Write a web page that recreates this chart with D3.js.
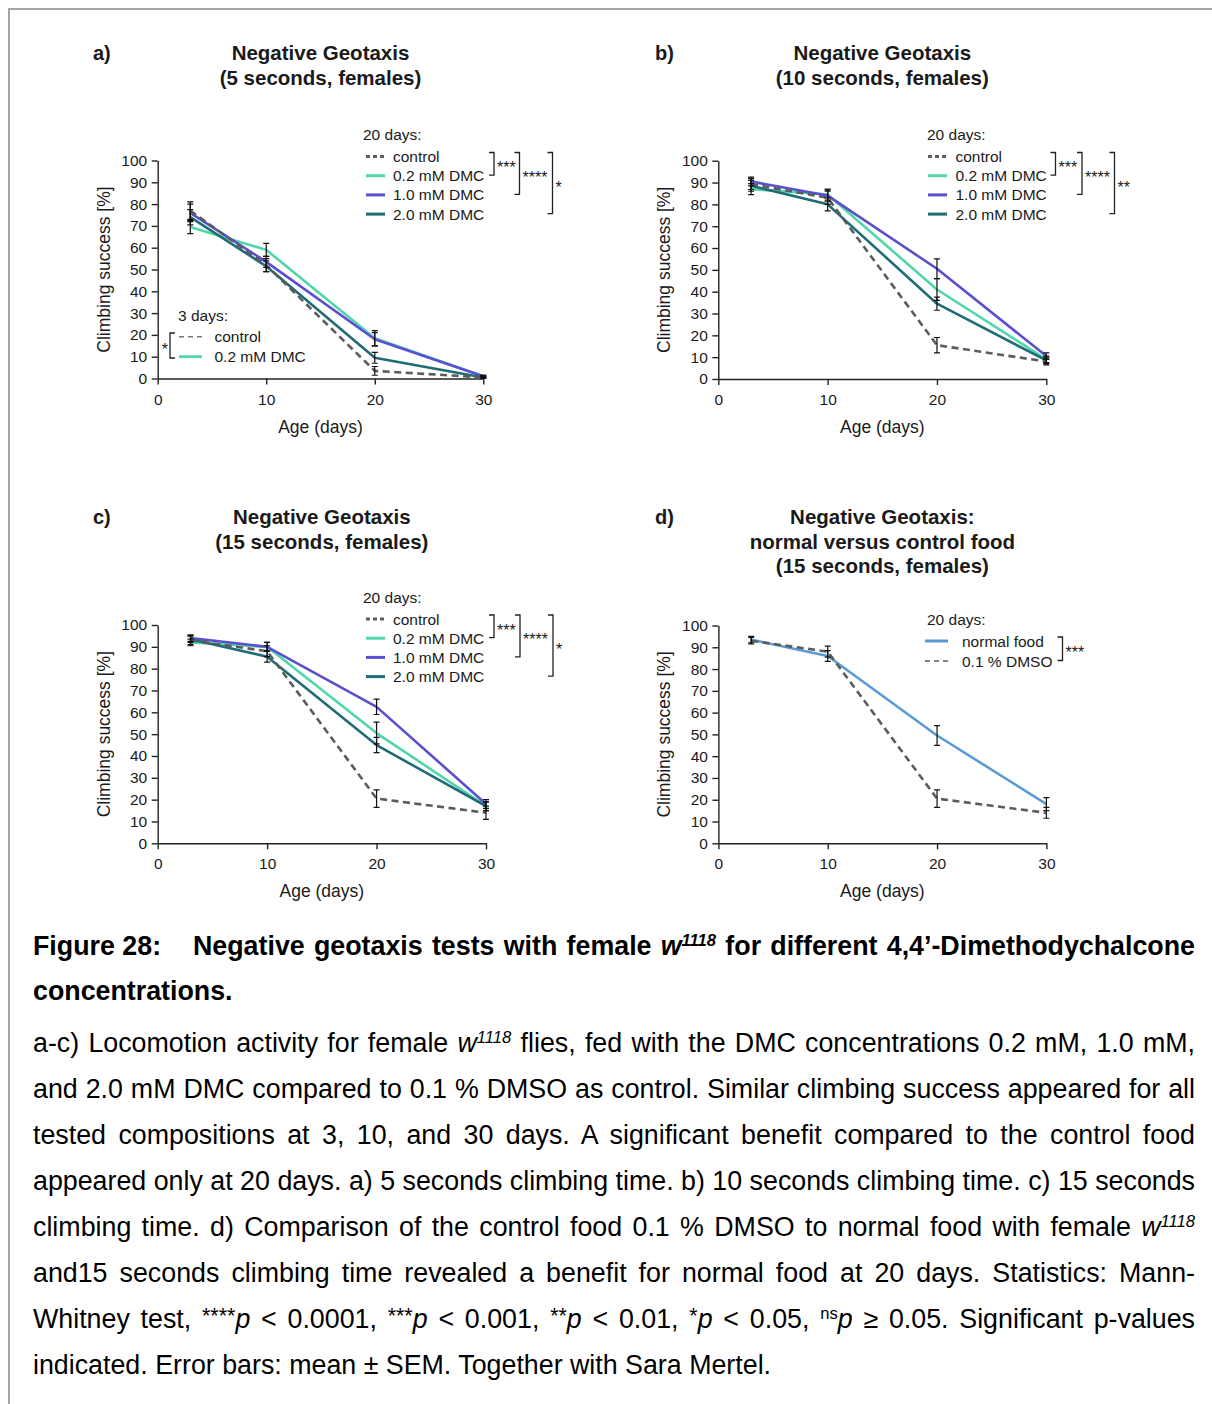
<!DOCTYPE html>
<html>
<head>
<meta charset="utf-8">
<script src="https://cdn.jsdelivr.net/npm/d3@7"></script>
<style>
  html, body { margin: 0; padding: 0; background: #fff; }
  body { width: 1212px; height: 1404px; position: relative; overflow: hidden;
         font-family: "Liberation Sans", Arial, sans-serif; }
  #fig { position: absolute; left: 0; top: 0; }
  .cap { position: absolute; left: 33px; width: 1162px; font-size: 26.8px; color: #000; }
  .cap div { white-space: nowrap; }
  .cap .j { text-align: justify; text-align-last: justify; white-space: normal; }
  #hd { top: 924px; line-height: 45px; font-weight: bold; }
  #bd { top: 1020px; line-height: 46px; }
  .fig { display: inline-block; width: 160px; text-align: left; text-align-last: left; white-space: nowrap; }
  sup { font-size: 0.62em; vertical-align: 0; position: relative; top: -0.55em; line-height: 0; }
  sup.st { font-size: 0.8em; top: -0.25em; }
</style>
</head>
<body>
<svg id="fig" width="1212" height="1404"></svg>

<div class="cap" id="hd">
  <div class="j"><span class="fig">Figure 28:</span>Negative geotaxis tests with female <i>w</i><sup><i>1118</i></sup> for different 4,4’-Dimethodychalcone</div>
  <div>concentrations.</div>
</div>
<div class="cap" id="bd">
  <div class="j">a-c) Locomotion activity for female <i>w</i><sup><i>1118</i></sup> flies, fed with the DMC concentrations 0.2 mM, 1.0 mM,</div>
  <div class="j">and 2.0 mM DMC compared to 0.1 % DMSO as control. Similar climbing success appeared for all</div>
  <div class="j">tested compositions at 3, 10, and 30 days. A significant benefit compared to the control food</div>
  <div class="j">appeared only at 20 days. a) 5 seconds climbing time. b) 10 seconds climbing time. c) 15 seconds</div>
  <div class="j">climbing time. d) Comparison of the control food 0.1 % DMSO to normal food with female <i>w</i><sup><i>1118</i></sup></div>
  <div class="j">and15 seconds climbing time revealed a benefit for normal food at 20 days. Statistics: Mann-</div>
  <div class="j">Whitney test, <sup class="st">****</sup><i>p</i> &lt; 0.0001, <sup class="st">***</sup><i>p</i> &lt; 0.001, <sup class="st">**</sup><i>p</i> &lt; 0.01, <sup class="st">*</sup><i>p</i> &lt; 0.05, <sup>ns</sup><i>p</i> ≥ 0.05. Significant p-values</div>
  <div>indicated. Error bars: mean ± SEM. Together with Sara Mertel.</div>
</div>

<script>
// ---- data ----
const days = [3, 10, 20, 30];
const xTickValues = [0, 10, 20, 30];
const yTickValues = [0, 10, 20, 30, 40, 50, 60, 70, 80, 90, 100];

const dmcSeries = ["control", "0.2 mM DMC", "1.0 mM DMC", "2.0 mM DMC"];
const foodSeries = ["normal food", "0.1 % DMSO"];
const dmcColors = ["#5c5c5c", "#4fd6a9", "#5a4fcf", "#1f6c78"];
const foodColors = ["#5b9bd5", "#5c5c5c"];

// a) 5 seconds
const meanA = [
  [77, 52, 3.5, 0.5],
  [69.5, 59, 18.5, 1],
  [76, 53.5, 18, 1],
  [74, 51.5, 9.5, 0.5]
];
const semA = [
  [4, 3, 2, 0.5],
  [3, 3, 3.5, 0.5],
  [4, 2.5, 3, 0.5],
  [3.5, 2.5, 2.5, 0.5]
];
const starsA = ["***", "****", "*"];
const stars3days = ["*"];

// b) 10 seconds
const meanB = [
  [89.3, 83, 15.5, 8],
  [87, 84.5, 41, 9],
  [90.5, 84, 50.5, 10.5],
  [88.5, 80, 34.5, 8.5]
];
const semB = [
  [2.5, 3, 3.5, 1.5],
  [2.5, 2.5, 5, 1.5],
  [2, 2.5, 4.5, 1.5],
  [2.5, 3, 3, 1.5]
];
const starsB = ["***", "****", "**"];

// c) 15 seconds
const meanC = [
  [93, 88, 20.5, 14],
  [92, 90, 50.5, 17],
  [94, 90, 62.5, 18],
  [93.5, 85.5, 45, 17]
];
const semC = [
  [2, 2.5, 4, 3],
  [1.5, 2, 5, 2],
  [1.5, 2, 3.5, 2],
  [1.5, 2.5, 3.5, 2]
];
const starsC = ["***", "****", "*"];

// d) normal vs control food
const meanD = [
  [93.5, 86, 49.5, 18],
  [93, 88, 20.5, 14]
];
const semD = [
  [1.5, 2.5, 4.5, 3],
  [1.5, 2.5, 4, 2.5]
];
const starsD = ["***"];

const FONT = "'Liberation Sans', Arial, sans-serif";
const INK = "#1a1a1a";
const svg = d3.select("#fig");

// frame
svg.append("path").attr("d", "M9,1404V9H1212")
  .attr("fill", "none").attr("stroke", "#a6a6a6").attr("stroke-width", 2);

function txt(g, x, y, s, size, opts) {
  opts = opts || {};
  return g.append("text").attr("x", x).attr("y", y).text(s)
    .attr("font-family", FONT).attr("font-size", size)
    .attr("font-weight", opts.bold ? "bold" : null)
    .attr("text-anchor", opts.anchor || "start")
    .attr("fill", INK);
}

function bracket(g, x, yTop, yBot, label, dir) {
  // dir -1 => "]"  , dir 1 => "["
  g.append("path")
    .attr("d", `M${x + dir * 5},${yTop}H${x}V${yBot}H${x + dir * 5}`)
    .attr("fill", "none").attr("stroke", "#222").attr("stroke-width", 1.3);
  const mid = (yTop + yBot) / 2;
  if (dir < 0) txt(g, x + 3, mid + 9.5, label, 16);
  else txt(g, x - 2, mid + 9.5, label, 16, {anchor: "end"});
}

function swatch(g, x1, x2, yy, color, dash, w) {
  g.append("line").attr("x1", x1).attr("x2", x2).attr("y1", yy).attr("y2", yy)
    .attr("stroke", color).attr("stroke-width", w).attr("stroke-dasharray", dash);
}

function drawPanel(p) {
  const g = svg.append("g");
  const x = d3.scaleLinear().domain([0, 30]).range([p.x0, p.x30]);
  const y = d3.scaleLinear().domain([0, 100]).range([p.y0, p.y100]);
  const cx = (p.x0 + p.x30) / 2;

  // panel letter + title
  txt(g, p.labelX, p.titleY[0] + 7, p.label, 20, {bold: true});
  p.title.forEach((t, i) => txt(g, cx, p.titleY[i] + 7, t, 20.5, {bold: true, anchor: "middle"}));

  // axes
  const ya = g.append("g").attr("transform", `translate(${p.x0},0)`)
    .call(d3.axisLeft(y).tickValues(yTickValues).tickSize(6).tickPadding(4.5).tickSizeOuter(0));
  const xa = g.append("g").attr("transform", `translate(0,${p.y0})`)
    .call(d3.axisBottom(x).tickValues(xTickValues).tickSize(6).tickPadding(9).tickSizeOuter(0));
  [ya, xa].forEach(a => {
    a.attr("font-family", FONT).attr("font-size", 15.5);
    a.selectAll("path, line").attr("stroke", "#222").attr("stroke-width", 1.4);
    a.selectAll("text").attr("fill", INK);
  });

  txt(g, 0, 6, "Climbing success [%]", 17.5, {anchor: "middle"})
    .attr("transform", `translate(${p.x0 - 54},${(p.y0 + p.y100) / 2}) rotate(-90)`);
  txt(g, cx, p.y0 + 54, "Age (days)", 17.5, {anchor: "middle"});

  // lines
  const line = d3.line().x((d, i) => x(days[i])).y(d => y(d));
  p.order.forEach(si => {
    g.append("path").datum(p.means[si]).attr("d", line)
      .attr("fill", "none").attr("stroke", p.colors[si])
      .attr("stroke-width", 2.6).attr("stroke-linejoin", "round")
      .attr("stroke-dasharray", p.dashed.includes(si) ? "7,4.5" : null);
  });

  // error bars
  p.means.forEach((ser, si) => {
    ser.forEach((m, i) => {
      const s = p.sems[si][i];
      const xx = x(days[i]), lo = y(m - s), hi = y(m + s);
      g.append("path")
        .attr("d", `M${xx},${lo}V${hi}M${xx - 3},${lo}H${xx + 3}M${xx - 3},${hi}H${xx + 3}`)
        .attr("stroke", "#111").attr("stroke-width", 1.2).attr("fill", "none");
    });
  });

  // legend (20 days)
  const L = p.legend;
  txt(g, L.headX, L.row0 - 22 + 5.5, "20 days:", 15.5);
  p.names.forEach((n, i) => {
    const yy = L.row0 + i * L.gap;
    const dashedSer = p.dashed.includes(i);
    swatch(g, L.sw[0], L.sw[1], yy, p.colors[i],
      dashedSer ? L.dash : null, dashedSer ? L.dashW : 3);
    txt(g, L.textX, yy + 5.5, n, 15.5);
  });
  p.stars.forEach((s, k) => {
    bracket(g, L.br[k], L.row0 - 4, L.row0 + (k + 1) * L.gap - 0.5, s, -1);
  });

  if (p.extra) p.extra(g);
}

drawPanel({
  label: "a)", labelX: 93, titleY: [53, 78],
  title: ["Negative Geotaxis", "(5 seconds, females)"],
  x0: 157.7, x30: 483.3, y100: 160.5, y0: 378.5,
  means: meanA, sems: semA, names: dmcSeries, colors: dmcColors,
  dashed: [0], order: [1, 2, 3, 0], stars: starsA,
  legend: {headX: 363, row0: 156.5, gap: 19.2, sw: [366, 385], textX: 393,
           dash: "4,3", dashW: 3, br: [494, 519.5, 552.5]},
  extra: g => {
    // 3 days legend
    txt(g, 178, 315 + 5.5, "3 days:", 15.5);
    swatch(g, 179, 202, 336.7, "#777", "5,4", 1.5);
    txt(g, 214.5, 336.7 + 5.5, dmcSeries[0], 15.5);
    swatch(g, 179, 202, 356.7, dmcColors[1], null, 2.8);
    txt(g, 214.5, 356.7 + 5.5, dmcSeries[1], 15.5);
    bracket(g, 170, 333, 358, stars3days[0], 1);
  }
});

drawPanel({
  label: "b)", labelX: 655, titleY: [52.5, 77.5],
  title: ["Negative Geotaxis", "(10 seconds, females)"],
  x0: 718.3, x30: 1046.3, y100: 160.7, y0: 379,
  means: meanB, sems: semB, names: dmcSeries, colors: dmcColors,
  dashed: [0], order: [1, 2, 3, 0], stars: starsB,
  legend: {headX: 927, row0: 156.5, gap: 19.2, sw: [928, 947], textX: 955.5,
           dash: "4,3", dashW: 3, br: [1055.5, 1082, 1114.5]}
});

drawPanel({
  label: "c)", labelX: 93, titleY: [517, 542],
  title: ["Negative Geotaxis", "(15 seconds, females)"],
  x0: 157.7, x30: 486, y100: 625, y0: 843.3,
  means: meanC, sems: semC, names: dmcSeries, colors: dmcColors,
  dashed: [0], order: [1, 2, 3, 0], stars: starsC,
  legend: {headX: 363, row0: 619, gap: 19.2, sw: [366, 385], textX: 393,
           dash: "4,3", dashW: 3, br: [494, 520, 553]}
});

drawPanel({
  label: "d)", labelX: 655, titleY: [517, 541.5, 566],
  title: ["Negative Geotaxis:", "normal versus control food", "(15 seconds, females)"],
  x0: 718.4, x30: 1046.4, y100: 625.5, y0: 843.3,
  means: meanD, sems: semD, names: foodSeries, colors: foodColors,
  dashed: [1], order: [0, 1], stars: starsD,
  legend: {headX: 927, row0: 641, gap: 20, sw: [925, 948], textX: 962,
           dash: "5,4", dashW: 1.6, br: [1062.5]}
});
</script>
</body>
</html>
